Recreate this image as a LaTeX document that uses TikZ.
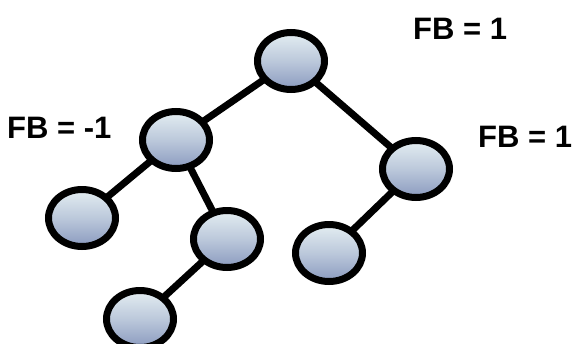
\documentclass[tikz,border=0pt]{standalone}
\usepackage{fontspec}
\setmainfont{Liberation Sans}
\usetikzlibrary{shapes.geometric,backgrounds}
\definecolor{nodetop}{RGB}{228,238,242}
\definecolor{nodebot}{RGB}{138,154,190}
\tikzset{
  treenode/.style={ellipse, draw=black, line width=7pt, minimum width=67pt, minimum height=57pt, inner sep=0pt,
    top color=nodetop, bottom color=nodebot, middle color=nodetop!55!nodebot},
  edge/.style={draw=black, line width=7pt},
  fb/.style={font=\fontsize{31}{35}\selectfont\bfseries, inner sep=0pt, anchor=base west}
}
\begin{document}
\begin{tikzpicture}[x=1pt,y=-1pt]
\useasboundingbox (0,0) rectangle (578,343);
\node[treenode] (r) at (291,61) {};
\node[treenode] (l) at (176,140) {};
\node[treenode] (rr) at (416,169) {};
\node[treenode] (ll) at (82,218) {};
\node[treenode] (lr) at (227,239) {};
\node[treenode] (rl) at (329,253) {};
\node[treenode] (b) at (140,319) {};
\begin{scope}[on background layer]
\draw[edge] (r.center) -- (l.center);
\draw[edge] (r.center) -- (rr.center);
\draw[edge] (l.center) -- (ll.center);
\draw[edge] (l.center) -- (lr.center);
\draw[edge] (lr.center) -- (b.center);
\draw[edge] (rr.center) -- (rl.center);
\end{scope}
\node[fb] (t1) at (413,39) {FB = 1};
\node[fb] (t2) at (7,138) {FB = -1};
\node[fb] (t3) at (478,147) {FB = 1};
\end{tikzpicture}
\end{document}
